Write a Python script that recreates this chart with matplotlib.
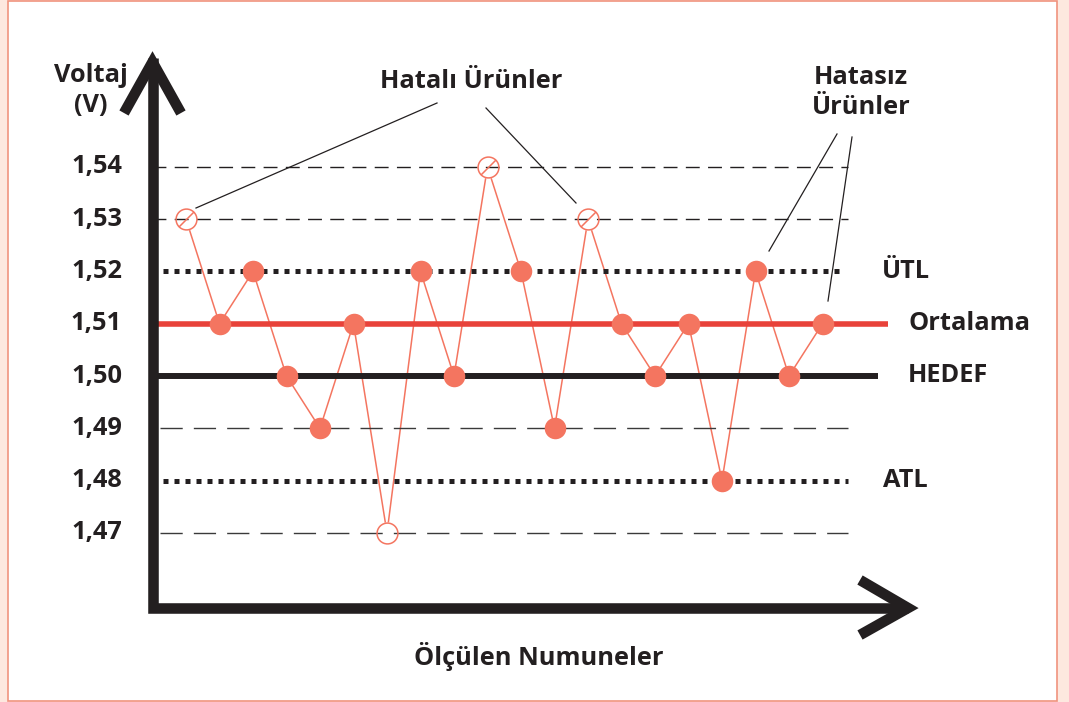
import numpy as np
import matplotlib.pyplot as plt
from matplotlib.path import Path

# olculen numuneler (voltaj, V)
values = [1.53, 1.51, 1.52, 1.50, 1.49, 1.51, 1.47, 1.52, 1.50, 1.54,
          1.52, 1.49, 1.53, 1.51, 1.50, 1.51, 1.48, 1.52, 1.50, 1.51]
ticks = [1.54, 1.53, 1.52, 1.51, 1.50, 1.49, 1.48, 1.47]
tick_labels = ["1,54", "1,53", "1,52", "1,51", "1,50", "1,49", "1,48", "1,47"]
utl, atl = 1.52, 1.48
mean_v, target = 1.51, 1.50

W, H = 1069, 702
BLACK = "#231f20"
SALMON = "#f47560"
RED = "#e8423a"
FS = 18.3

plt.rcParams['font.family'] = ['Open Sans', 'DejaVu Sans']
plt.rcParams['font.weight'] = 'bold'

fig = plt.figure(figsize=(W / 100, H / 100), dpi=100)
fig.patch.set_facecolor("#fde8df")

def px(x, y):
    # pixel position -> figure fraction
    return x / W, 1 - y / H

# white panel with salmon border
panel = plt.Rectangle(px(8, 701), 1049 / W, 700 / H, transform=fig.transFigure,
                      facecolor="white", edgecolor="#f0937e", lw=1.2, zorder=-10)
fig.patches.append(panel)

ax = fig.add_axes([0, 0, 1, 1])
ax.set_axis_off()
ax.patch.set_alpha(0)
# index -> pixel: x = 186 + 33.5*i ; volt -> pixel: y = 376 - 5230*(v-1.5)
ax.set_xlim(-186 / 33.5, (W - 186) / 33.5)
ax.set_ylim(1.50 - (H - 376) / 5230, 1.50 + 376 / 5230)

def xi(p):
    return (p - 186) / 33.5

x = np.arange(len(values))
v = np.array(values)
bad = (v > utl) | (v < atl)

# reference lines
x0 = xi(152)
for t in [1.54, 1.53]:
    ax.plot([x0, xi(848)], [t, t], color=BLACK, lw=1.0, dashes=(10, 6), zorder=4)
for t in [1.49, 1.47]:
    ax.plot([xi(160), xi(848)], [t, t], color="#3a3a3a", lw=1.0, dashes=(16, 8), zorder=4)
ax.plot([xi(163), xi(841)], [utl, utl], color=BLACK, lw=3.6, dashes=(1, 1.2),
        solid_capstyle='butt', zorder=4)
ax.plot([xi(163), xi(848)], [atl, atl], color=BLACK, lw=3.6, dashes=(1, 1.2),
        solid_capstyle='butt', zorder=4)
ax.plot([x0, xi(888)], [mean_v, mean_v], color=RED, lw=4.0, solid_capstyle='butt', zorder=4)
ax.plot([x0, xi(878)], [target, target], color=BLACK, lw=4.3, solid_capstyle='butt', zorder=4)

# data
ax.plot(x, v, color=SALMON, lw=1.1, zorder=2)
ax.plot(x[bad], v[bad], 'o', ms=16, mfc='white', mec='none', zorder=3)
ax.plot(x[bad], v[bad], 'o', ms=15, mfc='none', mec=SALMON, mew=1.1, zorder=6)
slash = Path([(-1, -1), (1, 1)], [Path.MOVETO, Path.LINETO])
sl = bad & (v > utl)
ax.plot(x[sl], v[sl], marker=slash, ls='none', ms=11, mec=SALMON, mew=1.1, zorder=6)
ax.plot(x[~bad], v[~bad], 'o', ms=15.5, color=SALMON, mec='none', zorder=5)

# labels on the right
ax.text(xi(882), utl, "ÜTL", fontsize=FS, va='center', ha='left', color=BLACK)
ax.text(xi(909), mean_v, "Ortalama", fontsize=FS, va='center', ha='left', color=BLACK)
ax.text(xi(908), target, "HEDEF", fontsize=FS, va='center', ha='left', color=BLACK)
ax.text(xi(883), atl, "ATL", fontsize=FS, va='center', ha='left', color=BLACK)

# tick labels
for t, lab in zip(ticks, tick_labels):
    ax.text(xi(122), t, lab, fontsize=FS, va='center', ha='right', color=BLACK)

# axes with arrows (drawn in pixels)
ln = dict(transform=fig.transFigure, color=BLACK, solid_capstyle='butt',
          solid_joinstyle='miter', lw=7.6)
fig.add_artist(plt.Line2D(*zip(px(152.5, 58), px(152.5, 608), px(908, 608)), **ln))
fig.add_artist(plt.Line2D(*zip(px(124, 113), px(152.5, 62), px(181, 113)), **ln))
fig.add_artist(plt.Line2D(*zip(px(860, 580), px(908, 608), px(860, 635)), **ln))

fig.text(*px(91, 75), "Voltaj", fontsize=FS, ha='center', va='center', color=BLACK)
fig.text(*px(91, 105), "(V)", fontsize=FS, ha='center', va='center', color=BLACK)
fig.text(*px(539, 656), "Ölçülen Numuneler", fontsize=FS, ha='center', va='center', color=BLACK)
fig.text(*px(471, 81), "Hatalı Ürünler", fontsize=FS, ha='center', va='center', color=BLACK)
fig.text(*px(861, 77), "Hatasız", fontsize=FS, ha='center', va='center', color=BLACK)
fig.text(*px(861, 107), "Ürünler", fontsize=FS, ha='center', va='center', color=BLACK)

# pointer lines
ann = dict(transform=fig.transFigure, color=BLACK, lw=0.9)
for a, b in [((437, 103), (196, 208)), ((486, 108), (576, 203)),
             ((837, 134), (769, 251)), ((852, 137), (828, 301))]:
    fig.add_artist(plt.Line2D(*zip(px(*a), px(*b)), **ann))

fig.savefig("out.png", dpi=100, facecolor=fig.get_facecolor())
